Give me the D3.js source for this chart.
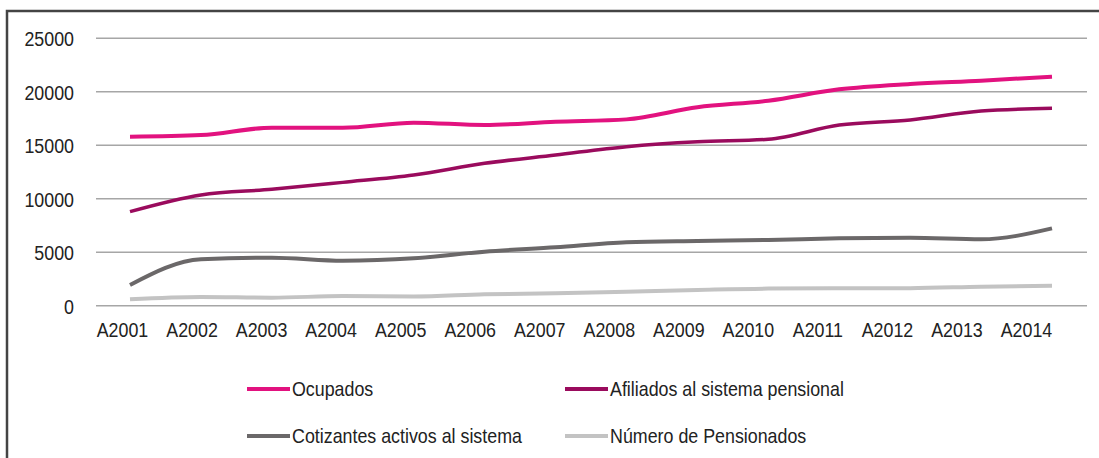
<!DOCTYPE html>
<html lang="es">
<head>
<meta charset="UTF-8">
<title>Ocupados y sistema pensional</title>
<script src="https://cdn.jsdelivr.net/npm/d3@7"></script>
<style>
  body { margin: 0; background: #fff; }
  svg text { font-family: "Liberation Sans Narrow", "Arial Narrow", "Liberation Sans", sans-serif; fill: #222; }
</style>
</head>
<body>
<div id="chart"></div>
<script>
// data
var years = ["A2001","A2002","A2003","A2004","A2005","A2006","A2007","A2008","A2009","A2010","A2011","A2012","A2013","A2014"];
var ocupados    = [15800,15950,16640,16640,17110,16890,17200,17420,18550,19170,20230,20730,21040,21410];
var afiliados   = [8790,10350,10880,11530,12220,13310,14090,14870,15330,15560,16890,17360,18200,18450];
var cotizantes  = [1940,4340,4490,4210,4430,5050,5460,5930,6050,6140,6300,6360,6210,7230];
var pensionados = [600,820,750,900,860,1070,1160,1310,1470,1600,1630,1640,1780,1870];
var seriesNames = ["Ocupados","Afiliados al sistema pensional","Cotizantes activos al sistema","Número de Pensionados"];
var yTicks = [0,5000,10000,15000,20000,25000];

var width = 1099, height = 458;
var squeeze = "scale(0.85,1)"; // no narrow font installed, so squash the regular one

var svg = d3.select("#chart").append("svg")
    .attr("width", width)
    .attr("height", height);

// frame
svg.append("rect")
    .attr("x", 7).attr("y", 11)
    .attr("width", 1100).attr("height", 460)
    .attr("fill", "none")
    .attr("stroke", "#444")
    .attr("stroke-width", 2.5);

var y = d3.scaleLinear().domain([0, 25000]).range([305.7, 38.3]);
var x = d3.scalePoint().domain(years).range([130, 1052]);
var xLab = d3.scalePoint().domain(years).range([122, 1026]);

var color = d3.scaleOrdinal()
    .domain(seriesNames)
    .range(["#e2127f", "#9a0b5d", "#6b6869", "#c3c3c3"]);

// gridlines
svg.append("g").selectAll("line")
    .data(yTicks)
    .enter().append("line")
    .attr("x1", 96).attr("x2", 1087)
    .attr("y1", function(d){ return y(d); })
    .attr("y2", function(d){ return y(d); })
    .attr("stroke", "#a6a6a6")
    .attr("stroke-width", 1.5);

// y axis labels
var yAxis = svg.append("g")
    .attr("transform", "translate(74,0)")
    .call(d3.axisLeft(y).tickValues(yTicks).tickFormat(d3.format("d")).tickSize(0).tickPadding(0));
yAxis.select(".domain").remove();
yAxis.selectAll("text").style("font-size", "21px").attr("dy", "0.35em").attr("transform", squeeze);

// x axis labels
var xAxis = svg.append("g")
    .attr("transform", "translate(0,322)")
    .call(d3.axisBottom(xLab).tickSize(0).tickPadding(0));
xAxis.select(".domain").remove();
xAxis.selectAll("text").style("font-size", "21px").attr("dy", "0.71em").attr("transform", squeeze);

var series = [
  {name: seriesNames[0], values: ocupados, w: 4},
  {name: seriesNames[1], values: afiliados, w: 3.5},
  {name: seriesNames[2], values: cotizantes, w: 4},
  {name: seriesNames[3], values: pensionados, w: 4}
];

var line = d3.line()
    .x(function(d, i){ return x(years[i]); })
    .y(function(d){ return y(d); })
    .curve(d3.curveMonotoneX);

svg.append("g").selectAll("path")
    .data(series.slice().reverse())
    .enter().append("path")
    .attr("d", function(d){ return line(d.values); })
    .attr("fill", "none")
    .attr("stroke", function(d){ return color(d.name); })
    .attr("stroke-width", function(d){ return d.w; })
    .attr("stroke-linejoin", "round");

// legend, 2 x 2
var legCol = [247, 565], legRow = [389, 436];
var leg = svg.append("g").selectAll("g")
    .data(series)
    .enter().append("g")
    .attr("transform", function(d, i){ return "translate(" + legCol[i % 2] + "," + legRow[Math.floor(i / 2)] + ")"; });
leg.append("line")
    .attr("x1", 0).attr("x2", 43)
    .attr("stroke", function(d){ return color(d.name); })
    .attr("stroke-width", 4);
leg.append("g")
    .attr("transform", "translate(45,0) " + squeeze)
  .append("text")
    .attr("dy", "0.35em")
    .style("font-size", "21px")
    .text(function(d){ return d.name; });
</script>
</body>
</html>
